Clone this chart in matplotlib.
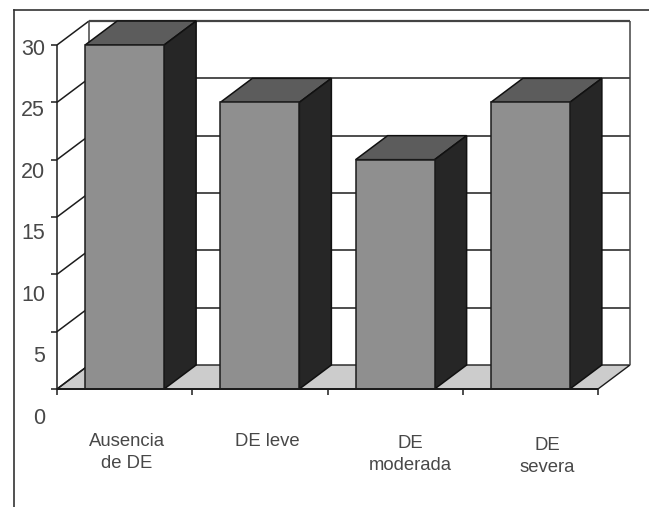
import matplotlib
matplotlib.use('Agg')
import matplotlib.pyplot as plt
from matplotlib.lines import Line2D
from matplotlib.patches import Polygon

plt.rcParams['font.family'] = ['Liberation Sans', 'DejaVu Sans']

# Datos del grafico
categorias = ['Ausencia\nde DE', 'DE leve', 'DE\nmoderada', 'DE\nsevera']
valores = [30, 25, 20, 25]
ticks_y = [0, 5, 10, 15, 20, 25, 30]

W, H = 649, 507
COLOR_LINEA = '#1c1c1c'
COLOR_TEXTO = '#484848'

fig = plt.figure(figsize=(W / 100, H / 100), dpi=100)
fig.patch.set_facecolor('white')

# Ejes principales: 0-30 entre y=389 y y=45, categorias entre x=57 y x=598
ax = fig.add_axes([57 / W, 1 - 389 / H, (598 - 57) / W, (389 - 45) / H])
ax.set_xlim(0, 4)
ax.set_ylim(0, 30)
ax.axis('off')

# Profundidad del efecto 3D en unidades de datos
px_x = 4 / (598 - 57)
px_y = 30 / (389 - 45)
dx = 32 * px_x
dy = 24 * px_y
ancho = 79 * px_x


def linea(xs, ys, lw=1.1, color=COLOR_LINEA, z=1):
    ax.plot(xs, ys, color=color, lw=lw, zorder=z, clip_on=False, solid_capstyle='butt')


# Suelo
ax.add_patch(Polygon([(0, 0), (4, 0), (4 + dx, dy), (dx, dy)], closed=True, facecolor='#cccccc',
                     edgecolor=COLOR_LINEA, lw=1.0, zorder=1, clip_on=False))

# Pared del fondo y pared izquierda
for t in ticks_y:
    lw = 1.6 if t == 30 else 1.1
    color = '#444444' if t == 30 else COLOR_LINEA
    if t > 0:
        linea([dx, 4 + dx], [t + dy, t + dy], lw=lw, color=color)
    linea([0, dx], [t, t + dy])
    linea([-6 * px_x, 0], [t, t])
linea([0, 0], [0, 30])
linea([dx, dx], [dy, 30 + dy], color='#444444')
linea([4 + dx, 4 + dx], [dy, 30 + dy], color='#444444')

# Eje X
linea([0, 4], [0, 0], lw=1.4, z=5)
for i in range(len(categorias) + 1):
    linea([i, i], [0, -6 * px_y])

# Barras con cara superior y lateral
posiciones = [i + 0.5 for i in range(len(valores))]
barras = ax.bar(posiciones, valores, width=ancho, color='#8f8f8f', edgecolor=COLOR_LINEA,
                linewidth=1.1, zorder=4, clip_on=False)
for barra, v in zip(barras, valores):
    x0 = barra.get_x()
    x1 = x0 + barra.get_width()
    ax.add_patch(Polygon([(x0, v), (x1, v), (x1 + dx, v + dy), (x0 + dx, v + dy)], closed=True,
                         facecolor='#5c5c5c', edgecolor='#111111', lw=1.1, zorder=3, clip_on=False))
    ax.add_patch(Polygon([(x1, 0), (x1 + dx, dy), (x1 + dx, v + dy), (x1, v)], closed=True,
                         facecolor='#262626', edgecolor='#111111', lw=1.1, zorder=3, clip_on=False))

# Etiquetas de Y: van desplazadas respecto a las marcas, como en el original
ax_etq = fig.add_axes([45 / W, 1 - 416 / H, 1 / W, (416 - 47) / H])
ax_etq.set_ylim(0, 30)
ax_etq.set_xticks([])
ax_etq.set_yticks(ticks_y)
ax_etq.tick_params(axis='y', length=0, pad=0, labelsize=15.5, labelcolor=COLOR_TEXTO)
ax_etq.patch.set_visible(False)
for s in ax_etq.spines.values():
    s.set_visible(False)

# Etiquetas de categorias
centros_x = [127, 267, 410, 547]
tops_y = [433, 433, 435, 437]
for nombre, cx, ty in zip(categorias, centros_x, tops_y):
    ax.text((cx - 57) * px_x, (389 - ty) * px_y, nombre, ha='center', va='top', fontsize=13.3,
            color=COLOR_TEXTO, linespacing=1.35, clip_on=False)

# Marco superior e izquierdo
fig.add_artist(Line2D([14 / W, 14 / W], [0, 1 - 10 / H], color='#333333', lw=1.2))
fig.add_artist(Line2D([14 / W, 1], [1 - 10 / H, 1 - 10 / H], color='#333333', lw=1.2))

plt.savefig('out.png', dpi=100)
